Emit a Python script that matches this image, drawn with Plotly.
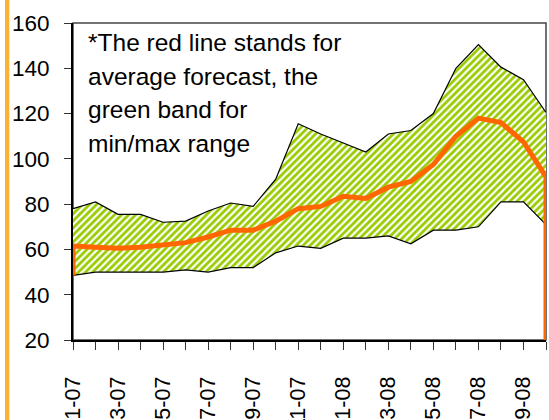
import plotly.graph_objects as go

# Monthly forecast summary, Jan 2007 - Oct 2008
months = ["1-07", "2-07", "3-07", "4-07", "5-07", "6-07", "7-07", "8-07", "9-07", "10-07", "11-07",
          "12-07", "1-08", "2-08", "3-08", "4-08", "5-08", "6-08", "7-08", "8-08", "9-08", "10-08"]
forecast_max = [78, 81, 75.5, 75.5, 72, 72.5, 77, 80.5, 79, 91, 115.5, 111,
                107, 103, 111, 112.5, 120, 140, 150.5, 140.5, 135, 120.5]
forecast_min = [48.5, 50, 50, 50, 50, 51, 50, 52, 52, 58.5, 61.5, 60.5,
                65, 65, 66, 62.5, 68.5, 68.5, 70, 81, 81, 71]
forecast_avg = [61.5, 61, 60.5, 61, 62, 63, 65.5, 68.5, 68.5, 72.5, 78, 79,
                83.5, 82.5, 87.5, 90, 97.5, 110, 118, 116, 107.5, 92]
y_ticks = [20, 40, 60, 80, 100, 120, 140, 160]

note_lines = ["*The red line stands for", "average forecast, the", "green band for", "min/max range"]

W, H = 549, 420
M_L, M_R, M_T, M_B = 73, 3, 23, 80
plot_w = W - M_L - M_R
plot_h = H - M_T - M_B

idx = list(range(len(months)))
x_range = [idx[0], idx[-1]]
y_range = [y_ticks[0], y_ticks[-1]]
tick_text = [m if i % 2 == 0 else "" for i, m in enumerate(months)]

font_family = "Liberation Sans, Arial, sans-serif"

fig = go.Figure()

# lower edge of the band
fig.add_trace(go.Scatter(
    x=idx, y=forecast_min, mode="lines",
    line=dict(color="black", width=1.2), hoverinfo="skip", showlegend=False,
))
# upper edge, hatched fill down to the lower edge
fig.add_trace(go.Scatter(
    x=idx, y=forecast_max, mode="lines", fill="tonexty",
    fillcolor="rgba(0,0,0,0)",
    fillpattern=dict(shape="/", fgcolor="#99CC00", bgcolor="white",
                     fgopacity=1, size=5, solidity=0.55),
    line=dict(color="black", width=1.2), hoverinfo="skip", showlegend=False,
))
# average forecast line, closed at both ends
fig.add_trace(go.Scatter(
    x=[idx[0]] + idx + [idx[-1]],
    y=[forecast_min[0]] + forecast_avg + [y_range[0]],
    mode="lines", line=dict(color="#FF6600", width=5),
    hoverinfo="skip", showlegend=False,
))

# note text, one annotation per line
baselines_px = [50.7, 84.2, 118.0, 151.7]
for text, base in zip(note_lines, baselines_px):
    fig.add_annotation(
        text=text, xref="paper", yref="paper",
        x=(86 - M_L) / plot_w, y=(H - M_B - (base - 8)) / plot_h,
        xanchor="left", yanchor="middle", showarrow=False,
        font=dict(size=24.5, color="black", family=font_family),
    )

# plot-area frame
fig.add_shape(type="rect", xref="paper", yref="paper", x0=0, x1=1, y0=0, y1=1,
              line=dict(color="#444444", width=1.5), layer="below")
# orange strip at the left edge of the figure
fig.add_shape(type="rect", xref="paper", yref="paper",
              x0=(5 - M_L) / plot_w, x1=(9.3 - M_L) / plot_w,
              y0=-(M_B) / plot_h, y1=1 + M_T / plot_h,
              line=dict(width=0), fillcolor="#F9B233", layer="above")

fig.update_layout(
    width=W, height=H,
    margin=dict(l=M_L, r=M_R, t=M_T, b=M_B, pad=0, autoexpand=False),
    paper_bgcolor="white", plot_bgcolor="white",
    font=dict(family=font_family, size=21, color="black"),
    xaxis=dict(
        range=x_range, tickmode="array", tickvals=idx, ticktext=tick_text,
        tickangle=-90, ticks="outside", ticklen=8, tickwidth=1, tickcolor="#333333",
        showline=True, linecolor="black", linewidth=2, showgrid=False, zeroline=False,
        tickfont=dict(size=21.5), ticklabelstandoff=18, automargin=False,
    ),
    xaxis2=dict(
        range=x_range, overlaying="x", anchor="y", side="bottom",
        tickmode="array", tickvals=idx, ticks="inside", ticklen=8, tickwidth=1,
        tickcolor="#333333", showticklabels=False, showline=False,
        showgrid=False, zeroline=False, automargin=False,
    ),
    yaxis=dict(
        range=y_range, tickmode="array", tickvals=y_ticks,
        ticks="outside", ticklen=7, tickwidth=1, tickcolor="#333333",
        showline=True, linecolor="black", linewidth=2, showgrid=False, zeroline=False,
        tickfont=dict(size=22.5), ticklabelstandoff=10, automargin=False,
    ),
)

fig.write_html("out.html")
